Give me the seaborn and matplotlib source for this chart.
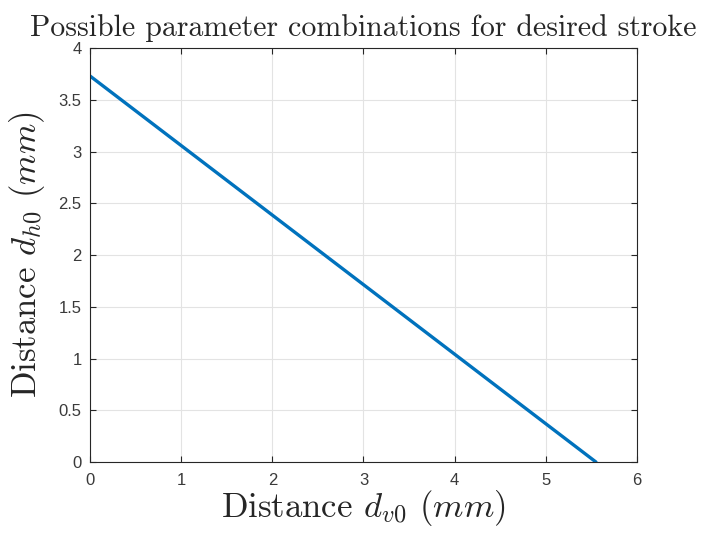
import numpy as np
import pandas as pd
import matplotlib
matplotlib.use("Agg")
import matplotlib.pyplot as plt
import seaborn as sns

# Endpoints of the admissible (d_v0, d_h0) line
d_v0 = [0.0, 5.55]
d_h0 = [3.73, 0.0]

x_ticks = [0, 1, 2, 3, 4, 5, 6]
y_ticks = [0, 0.5, 1, 1.5, 2, 2.5, 3, 3.5, 4]

sns.set_style("whitegrid")
plt.rcParams["mathtext.fontset"] = "cm"
plt.rcParams["font.family"] = ["Liberation Sans", "DejaVu Sans"]

df = pd.DataFrame({"d_v0": d_v0, "d_h0": d_h0})

fig = plt.figure(figsize=(7.05, 5.34), dpi=100)
ax = fig.add_axes([0.1277, 0.1348, 0.7758, 0.7752])

sns.lineplot(data=df, x="d_v0", y="d_h0", ax=ax, color="#0072BD", linewidth=2.4)

ax.set_xlim(0, 6)
ax.set_ylim(0, 4)
ax.set_xticks(x_ticks)
ax.set_yticks(y_ticks)
ax.set_xticklabels([f"{t:g}" for t in x_ticks])
ax.set_yticklabels([f"{t:g}" for t in y_ticks])

ax.grid(True, color="#e3e3e3", linewidth=0.8)
for s in ax.spines.values():
    s.set_visible(True)
    s.set_color("#262626")
    s.set_linewidth(0.8)
ax.tick_params(axis="both", direction="in", length=4, width=0.8, color="#262626",
               labelcolor="#3a3a3a", labelsize=12, top=True, right=True,
               bottom=True, left=True)
ax.tick_params(axis="x", pad=8)
ax.tick_params(axis="y", pad=6)

serif = {"family": "cmr10"}
ax.set_title("Possible parameter combinations for desired stroke",
             fontdict=serif, fontsize=21.5, pad=9)
ax.set_xlabel(r"Distance $d_{v0}$ $(mm)$", fontdict=serif, fontsize=25, labelpad=0)
ax.set_ylabel(r"Distance $d_{h0}$ $(mm)$", fontdict=serif, fontsize=25, labelpad=8)

fig.savefig("out.png", dpi=100)
